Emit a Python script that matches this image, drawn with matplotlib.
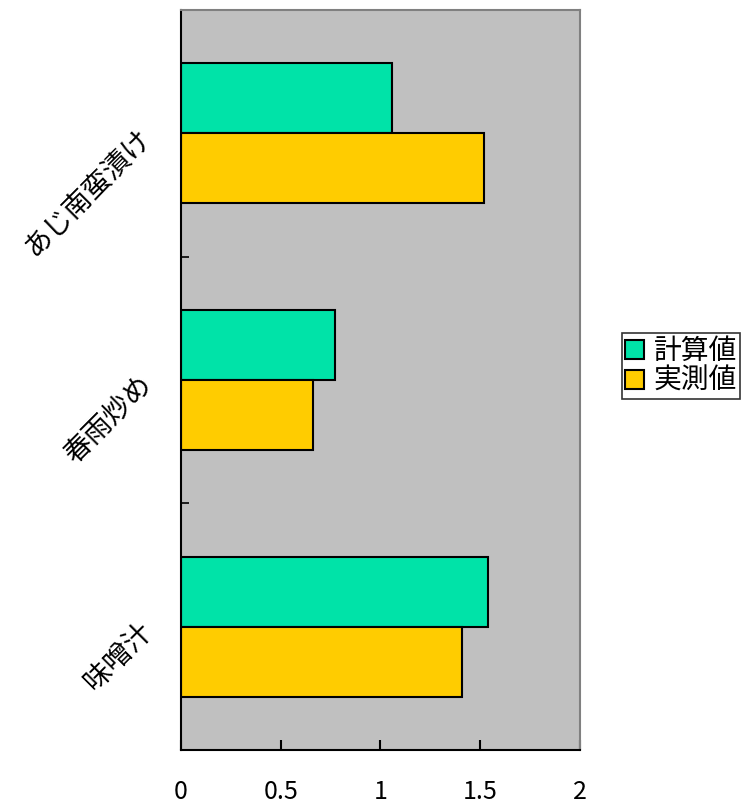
import numpy as np
import matplotlib.pyplot as plt

plt.rcParams['font.family'] = ['Noto Sans CJK JP', 'DejaVu Sans']

# データ
categories = ['あじ南蛮漬け', '春雨炒め', '味噌汁']
calc = [1.06, 0.77, 1.54]      # 計算値
meas = [1.52, 0.66, 1.41]      # 実測値
xticks = [0, 0.5, 1, 1.5, 2]

fig = plt.figure(figsize=(7.56, 8.07), dpi=100)
ax = fig.add_axes([0.2394, 0.0706, 0.5278, 0.917])
ax.set_facecolor('#c0c0c0')

pos = np.arange(len(categories))
h = 0.284
ax.barh(pos - h / 2, calc, height=h, color='#00e3a8', edgecolor='black',
        linewidth=1.5, label='計算値')
ax.barh(pos + h / 2, meas, height=h, color='#ffcc00', edgecolor='black',
        linewidth=1.5, label='実測値')

ax.set_xlim(0, 2)
ax.set_ylim(2.5, -0.5)

ax.set_xticks(xticks)
ax.set_xticklabels(['0', '0.5', '1', '1.5', '2'], fontsize=18)
ax.tick_params(axis='x', direction='in', length=7, width=1.5, pad=21)

ax.set_yticks([-0.5, 0.5, 1.5, 2.5])
ax.set_yticklabels([])
ax.tick_params(axis='y', which='major', direction='in', length=6, width=1.2)
ax.set_yticks(pos, minor=True)
ax.set_yticklabels(categories, minor=True, fontsize=20, rotation=45,
                   rotation_mode='anchor', ha='right', va='center')
ax.tick_params(axis='y', which='minor', length=0, pad=24)

for s in ['left', 'bottom']:
    ax.spines[s].set_color('black')
    ax.spines[s].set_linewidth(1.5)
for s in ['top', 'right']:
    ax.spines[s].set_color('#808080')
    ax.spines[s].set_linewidth(1.5)

leg = ax.legend(loc='center left', bbox_to_anchor=(1.105, 0.519), fontsize=20,
                frameon=True, fancybox=False, edgecolor='black',
                handlelength=0.7, handleheight=0.7, handletextpad=0.35,
                borderpad=0.1, labelspacing=0.0, borderaxespad=0)
leg.get_frame().set_linewidth(1.2)

fig.savefig('out.png', dpi=100)
